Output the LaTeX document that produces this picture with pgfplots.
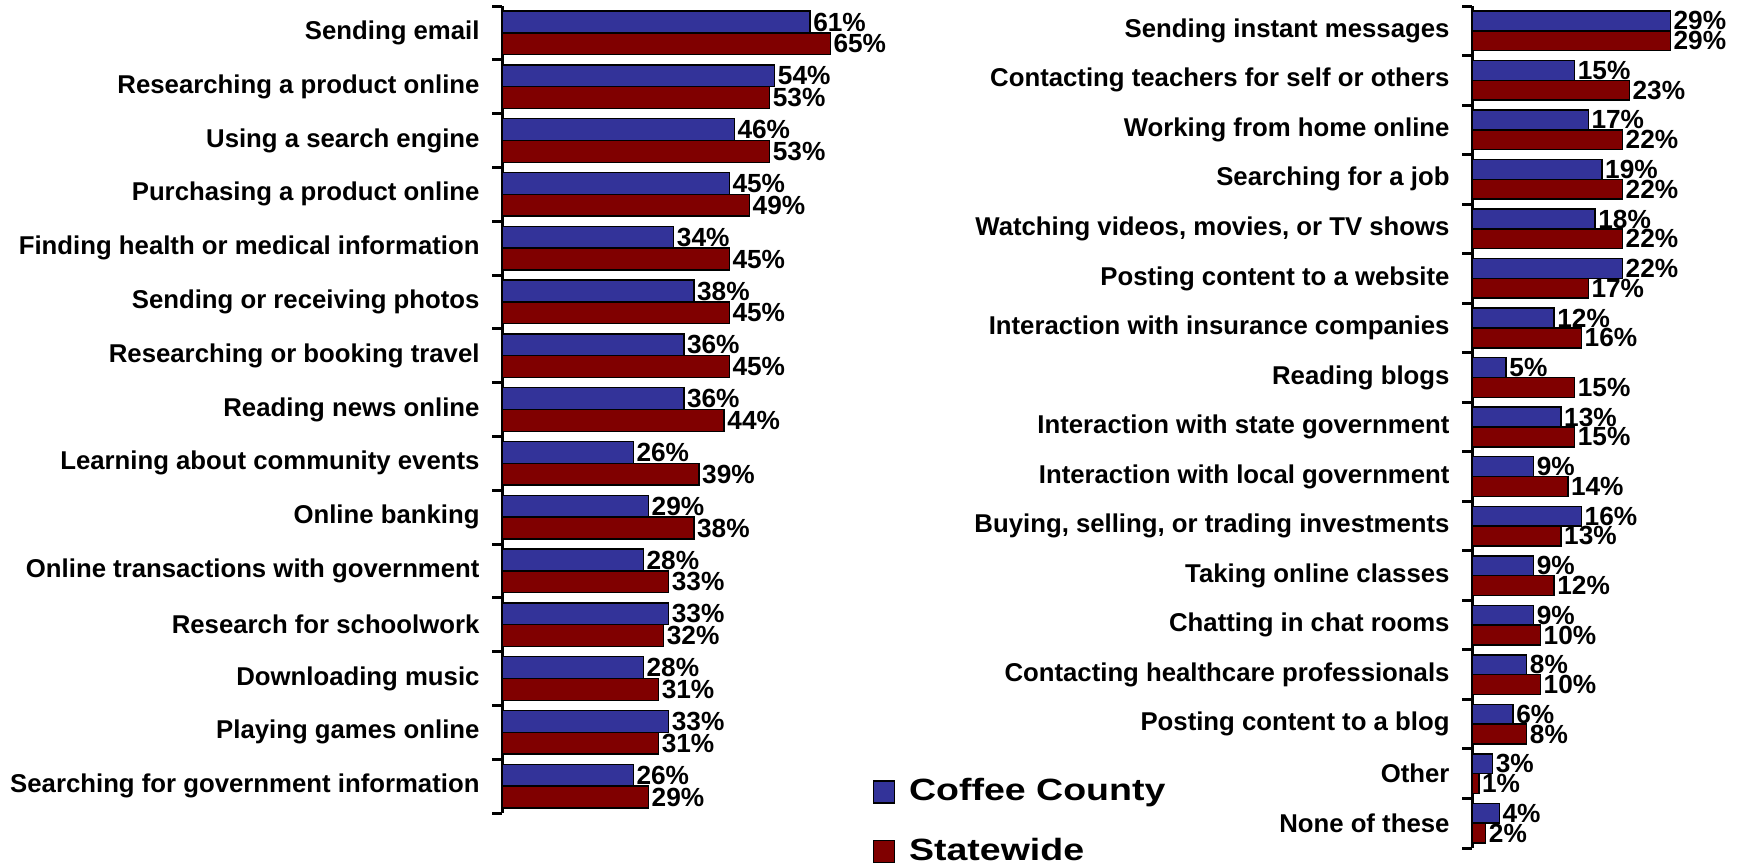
\documentclass[border=0pt]{standalone}
\usepackage{fontspec}
\setmainfont{Liberation Sans}
\newfontfamily\legendfont[FakeStretch=1.22]{Liberation Sans}
\usepackage{pgfplots}
\pgfplotsset{compat=1.18}

\definecolor{coffee}{HTML}{333399}
\definecolor{state}{HTML}{800000}

\pgfplotsset{
  surveybars/.style={
    xbar, scale only axis, y dir=reverse,
    axis x line=none, axis y line*=left,
    xmin=0, ymin=-0.5,
    major tick length=0pt, minor tick length=4pt, tick align=outside,
    y axis line style={line width=1.2pt},
    every minor tick/.style={line width=1.2pt, black},
    yticklabel style={font=\fontsize{10.3}{12}\selectfont\bfseries, inner xsep=0pt, xshift=-8.8pt},
    point meta=x,
    nodes near coords={\pgfmathprintnumber{\pgfplotspointmeta}\%},
    nodes near coords align=horizontal,
    every node near coord/.append style={font=\fontsize{10.5}{12}\selectfont\bfseries,
      inner xsep=1pt, inner ysep=0pt, text=black},
    /pgf/number format/assume math mode=true,
    clip=false,
  },
  coffeebar/.style={fill=coffee, draw=black, line width=0.6pt},
  statebar/.style={fill=state, draw=black, line width=0.6pt},
}

\begin{document}
\begin{tikzpicture}
\useasboundingbox (0,0) rectangle (695.2pt,345.2pt);

% left panel
\begin{axis}[surveybars,
  at={(200.8pt,20pt)}, anchor=south west,
  width=141.4pt, height=322.8pt,
  xmax=70, ymax=14.5,
  bar width=0.405,
  ytick={0,...,14},
  minor ytick={-0.5,0.5,...,14.5},
  yticklabels={Sending email, Researching a product online, Using a search engine,
    Purchasing a product online, Finding health or medical information,
    Sending or receiving photos, Researching or booking travel, Reading news online,
    Learning about community events, Online banking, Online transactions with government,
    Research for schoolwork, Downloading music, Playing games online,
    Searching for government information},
]
\addplot[coffeebar, bar shift=-0.2025] coordinates {
  (61,0) (54,1) (46,2) (45,3) (34,4) (38,5) (36,6) (36,7)
  (26,8) (29,9) (28,10) (33,11) (28,12) (33,13) (26,14)};
\addplot[statebar, bar shift=0.2025] coordinates {
  (65,0) (53,1) (53,2) (49,3) (45,4) (45,5) (45,6) (44,7)
  (39,8) (38,9) (33,10) (32,11) (31,12) (31,13) (29,14)};
\end{axis}

% right panel
\begin{axis}[surveybars,
  at={(588.8pt,6pt)}, anchor=south west,
  width=87.55pt, height=336.8pt,
  xmax=32, ymax=16.5,
  bar width=0.40,
  ytick={0,...,16},
  minor ytick={-0.5,0.5,...,16.5},
  yticklabels={Sending instant messages, Contacting teachers for self or others,
    Working from home online, Searching for a job, {Watching videos, movies, or TV shows},
    Posting content to a website, Interaction with insurance companies, Reading blogs,
    Interaction with state government, Interaction with local government,
    {Buying, selling, or trading investments}, Taking online classes,
    Chatting in chat rooms, Contacting healthcare professionals,
    Posting content to a blog, Other, None of these},
  legend style={draw=none, fill=none, at={(axis description cs:-2.741,0.0831)},
    anchor=north west, inner sep=0pt, row sep=13.4pt, column sep=5.6pt,
    font=\legendfont\fontsize{12.3}{15}\selectfont\bfseries,
    nodes={inner sep=0pt}},
  legend cell align=left,
  legend image code/.code={\draw[#1] (0pt,-4.6pt) rectangle (8.4pt,4.2pt);},
]
\addplot[coffeebar, bar shift=-0.2] coordinates {
  (29,0) (15,1) (17,2) (19,3) (18,4) (22,5) (12,6) (5,7) (13,8)
  (9,9) (16,10) (9,11) (9,12) (8,13) (6,14) (3,15) (4,16)};
\addplot[statebar, bar shift=0.2] coordinates {
  (29,0) (23,1) (22,2) (22,3) (22,4) (17,5) (16,6) (15,7) (15,8)
  (14,9) (13,10) (12,11) (10,12) (10,13) (8,14) (1,15) (2,16)};
\legend{Coffee County, Statewide}
\end{axis}
\end{tikzpicture}
\end{document}
